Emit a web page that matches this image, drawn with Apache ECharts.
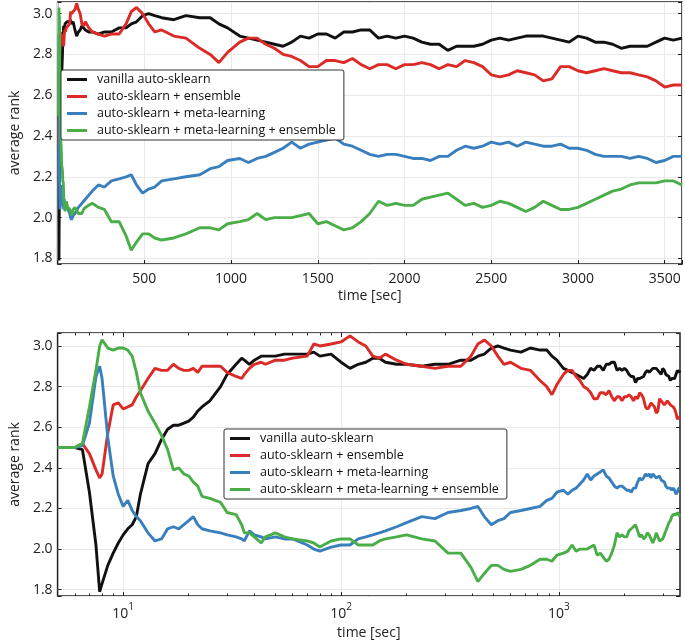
<!DOCTYPE html>
<html><head><meta charset="utf-8">
<script src="https://cdn.jsdelivr.net/npm/echarts@6/dist/echarts.min.js"></script>
<style>html,body{margin:0;padding:0;background:#fff}#c{width:685px;height:643px}</style>
</head><body><div id="c"></div>
<script>
const seriesNames = ['vanilla auto-sklearn', 'auto-sklearn + ensemble', 'auto-sklearn + meta-learning', 'auto-sklearn + meta-learning + ensemble'];

const timeSec = [
  5, 6, 6.5, 7, 7.5, 7.8, 8, 8.5, 9, 9.5, 10,
  10.5, 11, 11.5, 12, 13, 14, 15, 16, 17, 18, 19,
  20, 21, 22, 23, 25, 28, 30, 33, 35, 36, 38,
  40, 43, 45, 50, 55, 60, 70, 75, 80, 90, 100,
  110, 120, 130, 140, 150, 160, 180, 200, 235, 270, 310, 355, 395,
  425, 455, 490, 525, 560, 600, 670, 740, 820, 880, 930, 980, 1050,
  1100, 1150, 1200, 1250, 1300, 1350, 1400, 1450, 1500, 1550,
  1600, 1650, 1700, 1750, 1800, 1850, 1900, 1950, 2000, 2050,
  2100, 2150, 2200, 2250, 2300, 2350, 2400, 2450, 2500, 2550,
  2600, 2650, 2700, 2750, 2800, 2850, 2900, 2950, 3000, 3050,
  3100, 3150, 3200, 3250, 3300, 3350, 3400, 3450, 3500, 3550,
  3600
];

const vanilla = [
  2.50, 2.50, 2.49, 2.28, 2.02, 1.79, 1.83, 1.92, 1.98, 2.03, 2.07,
  2.10, 2.12, 2.16, 2.27, 2.42, 2.47, 2.54, 2.59, 2.61, 2.61, 2.62,
  2.63, 2.65, 2.68, 2.70, 2.73, 2.80, 2.86, 2.91, 2.94, 2.93, 2.91,
  2.93, 2.95, 2.95, 2.95, 2.96, 2.96, 2.96, 2.97, 2.95, 2.96, 2.92,
  2.89, 2.91, 2.92, 2.94, 2.94, 2.92, 2.91, 2.91, 2.90, 2.91, 2.91, 2.93, 2.93,
  2.95, 2.96, 2.99, 3.00, 2.99, 2.98, 2.97, 2.99, 2.98, 2.98, 2.95, 2.93, 2.89,
  2.88, 2.87, 2.86, 2.85, 2.84, 2.86, 2.89, 2.88, 2.90, 2.90,
  2.88, 2.91, 2.91, 2.92, 2.92, 2.88, 2.89, 2.88, 2.89, 2.88,
  2.86, 2.85, 2.85, 2.82, 2.84, 2.84, 2.84, 2.85, 2.87, 2.88,
  2.87, 2.88, 2.89, 2.89, 2.89, 2.88, 2.87, 2.86, 2.89, 2.88,
  2.86, 2.86, 2.85, 2.83, 2.84, 2.84, 2.84, 2.86, 2.88, 2.87,
  2.88
];

const withEnsemble = [
  2.50, 2.50, 2.52, 2.47, 2.39, 2.35, 2.37, 2.57, 2.71, 2.72, 2.69,
  2.70, 2.71, 2.75, 2.78, 2.84, 2.89, 2.88, 2.88, 2.91, 2.89, 2.88,
  2.88, 2.89, 2.87, 2.90, 2.90, 2.90, 2.87, 2.85, 2.84, 2.86, 2.89,
  2.91, 2.92, 2.91, 2.93, 2.93, 2.94, 2.95, 3.01, 3.00, 3.01, 3.02,
  3.05, 3.02, 3.00, 2.95, 2.94, 2.96, 2.93, 2.91, 2.90, 2.89, 2.90, 2.90, 2.95,
  3.01, 3.03, 3.00, 2.95, 2.91, 2.92, 2.89, 2.88, 2.83, 2.80, 2.76, 2.81, 2.86,
  2.88, 2.88, 2.85, 2.83, 2.80, 2.79, 2.77, 2.74, 2.74, 2.77,
  2.77, 2.76, 2.78, 2.75, 2.73, 2.75, 2.75, 2.73, 2.75, 2.75,
  2.76, 2.75, 2.73, 2.75, 2.74, 2.77, 2.76, 2.74, 2.70, 2.69,
  2.70, 2.72, 2.71, 2.70, 2.67, 2.68, 2.74, 2.74, 2.72, 2.71,
  2.72, 2.73, 2.72, 2.71, 2.71, 2.70, 2.69, 2.67, 2.64, 2.65,
  2.65
];

const withMeta = [
  2.50, 2.50, 2.51, 2.62, 2.85, 2.90, 2.84, 2.55, 2.36, 2.27, 2.21,
  2.24, 2.19, 2.16, 2.14, 2.08, 2.04, 2.05, 2.10, 2.11, 2.10, 2.12,
  2.14, 2.16, 2.12, 2.10, 2.09, 2.08, 2.07, 2.06, 2.05, 2.04, 2.09,
  2.07, 2.06, 2.05, 2.06, 2.05, 2.05, 2.02, 2.00, 1.99, 2.01, 2.02,
  2.02, 2.05, 2.06, 2.07, 2.08, 2.09, 2.11, 2.13, 2.16, 2.15, 2.18, 2.19, 2.20,
  2.21, 2.16, 2.12, 2.14, 2.15, 2.18, 2.19, 2.20, 2.21, 2.24, 2.25, 2.28, 2.29,
  2.27, 2.29, 2.30, 2.32, 2.34, 2.37, 2.34, 2.36, 2.37, 2.38,
  2.39, 2.36, 2.35, 2.33, 2.31, 2.30, 2.31, 2.31, 2.30, 2.29,
  2.29, 2.28, 2.30, 2.30, 2.33, 2.35, 2.34, 2.35, 2.37, 2.36,
  2.37, 2.35, 2.37, 2.36, 2.35, 2.35, 2.36, 2.34, 2.34, 2.33,
  2.31, 2.30, 2.30, 2.30, 2.29, 2.30, 2.29, 2.27, 2.28, 2.30,
  2.30
];

const withMetaEnsemble = [
  2.50, 2.50, 2.52, 2.70, 2.88, 3.00, 3.03, 2.99, 2.98, 2.99, 2.99,
  2.98, 2.95, 2.87, 2.77, 2.68, 2.62, 2.56, 2.49, 2.39, 2.40, 2.37,
  2.36, 2.33, 2.31, 2.26, 2.25, 2.23, 2.18, 2.17, 2.12, 2.08, 2.08,
  2.06, 2.03, 2.06, 2.08, 2.06, 2.05, 2.04, 2.03, 2.01, 2.04, 2.05,
  2.05, 2.02, 2.02, 2.02, 2.04, 2.05, 2.06, 2.07, 2.05, 2.04, 1.98, 1.98, 1.91,
  1.84, 1.88, 1.92, 1.92, 1.90, 1.89, 1.90, 1.92, 1.95, 1.95, 1.94, 1.97, 1.98,
  1.99, 2.02, 1.99, 2.00, 2.00, 2.00, 2.01, 2.02, 1.97, 1.98,
  1.96, 1.94, 1.95, 1.98, 2.02, 2.08, 2.06, 2.07, 2.06, 2.06,
  2.09, 2.10, 2.11, 2.12, 2.09, 2.06, 2.07, 2.05, 2.06, 2.08,
  2.07, 2.05, 2.03, 2.05, 2.08, 2.06, 2.04, 2.04, 2.05, 2.07,
  2.09, 2.11, 2.13, 2.14, 2.16, 2.17, 2.17, 2.17, 2.18, 2.18,
  2.16
];

const linearTicks = [500, 1000, 1500, 2000, 2500, 3000, 3500];
const rankTicks = [1.8, 2.0, 2.2, 2.4, 2.6, 2.8, 3.0];
const logMajorTicks = [10, 100, 1000];
const logMinorTicks = [6, 7, 8, 9, 20, 30, 40, 50, 60, 70, 80, 90, 200, 300, 400, 500, 600, 700, 800, 900, 2000, 3000];

const allValues = [vanilla, withEnsemble, withMeta, withMetaEnsemble];
const colors = ['#111111', '#dc2a26', '#3a7fbd', '#4aae48'];
const FONT = 'Open Sans';
const TXT = '#222222';

const chart = echarts.init(document.getElementById('c'), null, {renderer: 'canvas'});

function pairs(vals) { return timeSec.map((t, i) => [t, vals[i]]); }
function rankLabel(v) {
  for (const r of rankTicks) if (Math.abs(v - r) < 1e-6) return r.toFixed(1);
  return '';
}
function linLabel(v) {
  for (const r of linearTicks) if (Math.abs(v - r) < 1e-6) return String(r);
  return '';
}
function logLabel(v) {
  const l = Math.log10(v), e = Math.round(l);
  if (Math.abs(l - e) > 1e-6) return '';
  return '{b|10}{s|' + e + '}';
}

const tickStyle = {show: true, inside: true, length: 4, lineStyle: {color: '#222', width: 1}};
const splitStyle = {show: true, lineStyle: {color: '#e9e9e9', width: 1}};

function yAxis(grid, min, max, right) {
  return {
    type: 'value', gridIndex: grid, min: min, max: max, minInterval: 0.2, maxInterval: 0.2,
    position: right ? 'right' : 'left',
    axisLine: {show: false}, axisTick: tickStyle,
    axisLabel: right ? {show: false} : {formatter: rankLabel, fontSize: 14, color: TXT, fontFamily: FONT, margin: 5},
    splitLine: right ? {show: false} : splitStyle,
    name: right ? '' : 'average rank', nameLocation: 'middle', nameGap: grid === 0 ? 34 : 31, nameRotate: 90,
    nameTextStyle: {fontSize: 14, color: TXT, fontFamily: FONT}
  };
}

function logTickAxis(pos, values, len) {
  return {type: 'log', logBase: 10, gridIndex: 1, min: 5, max: 3600, position: pos,
    axisLine: {show: false}, splitLine: {show: false}, axisLabel: {show: false},
    axisTick: {show: true, inside: true, length: len, customValues: values, lineStyle: {color: '#222', width: 1}}};
}

const series = [];
seriesNames.forEach((n, i) => {
  series.push({type: 'line', name: n, xAxisIndex: 0, yAxisIndex: 0, data: pairs(allValues[i]),
    showSymbol: false, symbol: 'none', lineStyle: {width: 2.9, color: colors[i]}, itemStyle: {color: colors[i]}, z: 2 + i});
});
seriesNames.forEach((n, i) => {
  series.push({type: 'line', name: n, xAxisIndex: 1, yAxisIndex: 1, data: pairs(allValues[i]),
    showSymbol: false, symbol: 'none', lineStyle: {width: 2.9, color: colors[i]}, itemStyle: {color: colors[i]}, z: 2 + i});
});

function legend(left, top) {
  return {
    left: left, top: top, orient: 'vertical', data: seriesNames, icon: 'rect',
    itemWidth: 20, itemHeight: 3, itemGap: 2, padding: [2, 8, 2, 6],
    borderColor: '#333', borderWidth: 1, borderRadius: 2, backgroundColor: '#fff',
    selectedMode: false,
    textStyle: {fontSize: 12.5, fontFamily: FONT, color: '#111', padding: [0, 0, 0, 5], lineHeight: 15},
    z: 10
  };
}

const option = {
  animation: false,
  backgroundColor: '#fff',
  grid: [
    {left: 54, top: 2, width: 629, height: 262, show: true, borderColor: '#222', borderWidth: 1.5, backgroundColor: 'transparent'},
    {left: 51, top: 333, width: 629, height: 263, show: true, borderColor: '#222', borderWidth: 1.5, backgroundColor: 'transparent'}
  ],
  legend: [legend(61, 70), legend(224, 429)],
  xAxis: [
    {type: 'value', gridIndex: 0, min: 0, max: 3600, interval: 500,
      axisLine: {show: false}, axisTick: tickStyle, splitLine: splitStyle,
      axisLabel: {formatter: linLabel, fontSize: 14, color: TXT, fontFamily: FONT, margin: 8},
      name: 'time [sec]', nameLocation: 'middle', nameGap: 25,
      nameTextStyle: {fontSize: 14, color: TXT, fontFamily: FONT}},
    {type: 'log', logBase: 10, gridIndex: 1, min: 5, max: 3600,
      axisLine: {show: false}, axisTick: {show: true, inside: true, length: 4, customValues: logMajorTicks, lineStyle: {color: '#222', width: 1}},
      splitLine: splitStyle,
      axisLabel: {formatter: logLabel, margin: 6, color: TXT, fontFamily: FONT, customValues: logMajorTicks,
        rich: {b: {fontSize: 14, fontFamily: FONT, color: TXT, padding: [5, 0, 0, 0], verticalAlign: 'bottom'},
               s: {fontSize: 10, fontFamily: FONT, color: TXT, verticalAlign: 'top'}}},
      name: 'time [sec]', nameLocation: 'middle', nameGap: 30,
      nameTextStyle: {fontSize: 14, color: TXT, fontFamily: FONT}},
    logTickAxis('bottom', logMinorTicks, 2.5),
    logTickAxis('top', logMinorTicks, 2.5),
    logTickAxis('top', logMajorTicks, 4)
  ],
  yAxis: [
    yAxis(0, 1.7725, 3.057, false),
    yAxis(1, 1.769, 3.064, false),
    yAxis(0, 1.7725, 3.057, true),
    yAxis(1, 1.769, 3.064, true)
  ],
  series: series
};

const lens = allValues.map(a => a.length);
if (lens.some(l => l !== timeSec.length)) {
  option.title = {text: 'LEN MISMATCH ' + timeSec.length + ' / ' + lens.join(','), left: 200, top: 300, textStyle: {color: 'red'}};
}
chart.setOption(option);
</script>
</body></html>
